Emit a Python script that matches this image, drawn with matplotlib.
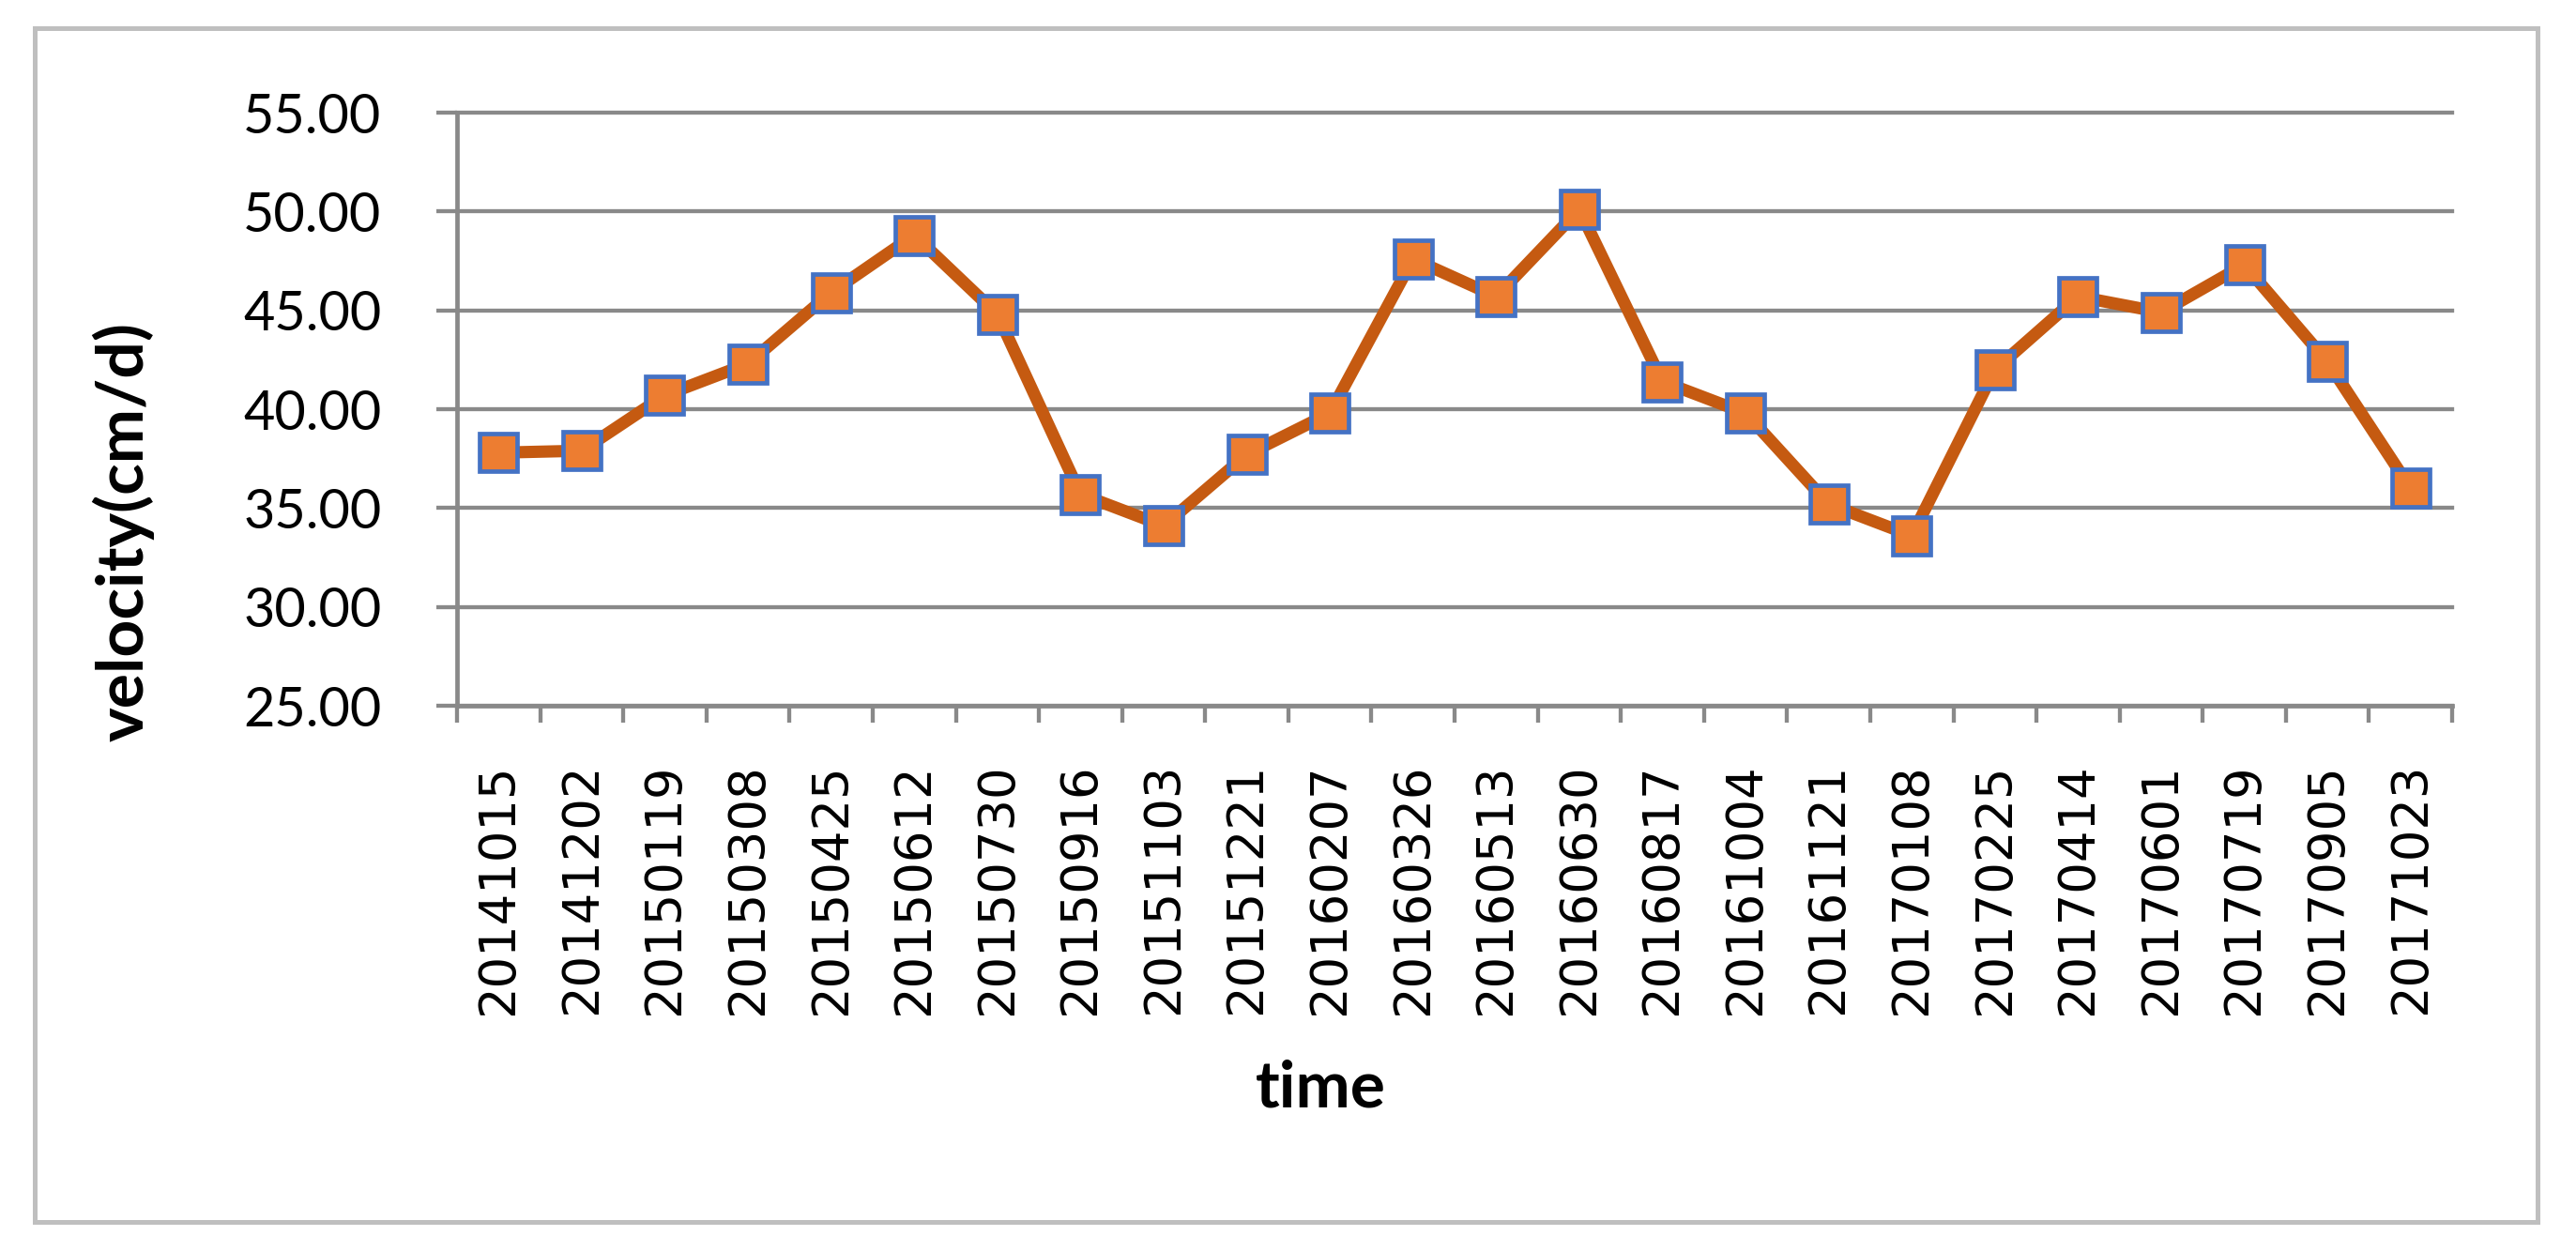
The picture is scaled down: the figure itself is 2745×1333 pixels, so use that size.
"""
Velocity time series (cm/d) from 2014-10 to 2017-10, Excel-style line chart.
"""

import matplotlib
matplotlib.use("Agg")
import matplotlib.pyplot as plt
import numpy as np
from matplotlib.patches import Rectangle


# acquisition dates (category axis)
dates = [
    "20141015", "20141202", "20150119", "20150308", "20150425", "20150612",
    "20150730", "20150916", "20151103", "20151221", "20160207", "20160326",
    "20160513", "20160630", "20160817", "20161004", "20161121", "20170108",
    "20170225", "20170414", "20170601", "20170719", "20170905", "20171023",
]

# velocity in cm/d
velocity = [
    37.8, 37.9, 40.7, 42.3, 45.9, 48.8,
    44.8, 35.7, 34.1, 37.7, 39.8, 47.6,
    45.7, 50.1, 41.4, 39.8, 35.2, 33.6,
    42.0, 45.7, 44.9, 47.3, 42.4, 36.0,
]

y_ticks = [25, 30, 35, 40, 45, 50, 55]

W, H = 2745, 1333
GRID = "#898989"


def main():
    fig = plt.figure(figsize=(W / 100, H / 100), dpi=100)

    # plot area in pixels: x 487..2613, y 120..752
    ax = fig.add_axes([487 / W, 1 - 752 / H, (2613 - 487) / W, (752 - 120) / H])

    x = np.arange(len(dates))
    ax.plot(
        x, velocity,
        color="#C55A11", lw=9.4,
        marker="s", ms=29.4, mfc="#ED7D31", mec="#4472C4", mew=3.4,
        zorder=3, clip_on=False,
    )

    ax.set_xlim(-0.5, len(dates) - 0.5)
    ax.set_ylim(y_ticks[0], y_ticks[-1])

    # y axis
    ax.set_yticks(y_ticks)
    ax.set_yticklabels([f"{v:.2f}" for v in y_ticks])
    ax.tick_params(axis="y", length=16, width=3.1, color=GRID, pad=42,
                   labelsize=41.5)
    for lbl in ax.get_yticklabels():
        lbl.set_fontfamily("Lato")
    ax.yaxis.grid(True, color=GRID, lw=3.1)
    for gl in ax.get_ygridlines():
        gl.set_clip_on(False)

    # x axis: tick marks between categories, labels at category centres
    ax.set_xticks(np.arange(-0.5, len(dates), 1.0))
    ax.set_xticklabels([])
    ax.tick_params(axis="x", which="major", length=13, width=3.1, color=GRID)
    ax.set_xticks(x, minor=True)
    ax.set_xticklabels(dates, minor=True, rotation=90, fontsize=38)
    ax.tick_params(axis="x", which="minor", length=0, pad=44)

    for side in ["top", "right"]:
        ax.spines[side].set_visible(False)
    for side in ["left", "bottom"]:
        ax.spines[side].set_color(GRID)
        ax.spines[side].set_linewidth(3.4)
    ax.set_axisbelow(True)

    # axis titles
    fig.text(132 / W, 1 - 567 / H, "velocity(cm/d)", rotation=90,
             ha="center", va="center", fontsize=50, fontweight="bold",
             family="Lato")
    fig.text(1407 / W, 1 - 1180 / H, "time", ha="center", va="baseline",
             fontsize=50, fontweight="bold", family="Lato")

    # chart border
    fig.patches.append(Rectangle(
        (36.5 / W, 1 - 1301.5 / H), (2703.5 - 36.5) / W, (1301.5 - 30) / H,
        transform=fig.transFigure, fill=False, edgecolor="#BFBFBF", lw=3.6,
    ))

    fig.savefig("out.png", dpi=100)
    plt.close(fig)


if __name__ == "__main__":
    main()
